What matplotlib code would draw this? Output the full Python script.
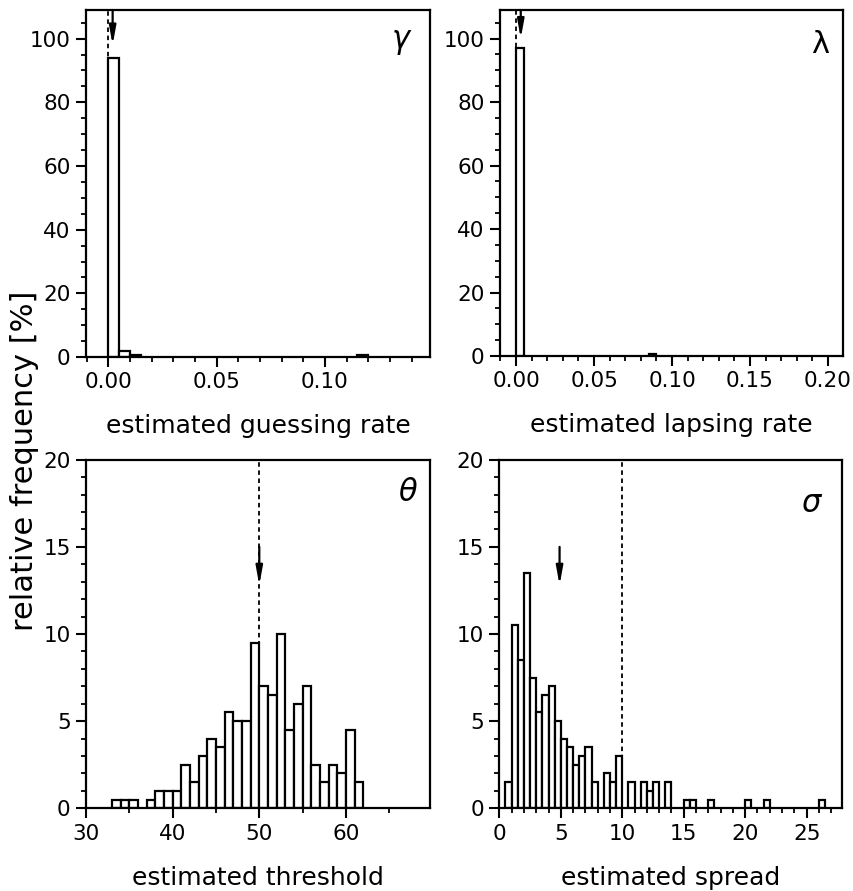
import matplotlib
matplotlib.use("Agg")
import matplotlib.pyplot as plt
from matplotlib.ticker import MultipleLocator, FormatStrFormatter

plt.rcParams['font.family'] = ['DejaVu Sans']

# ---- data (relative frequency in %) ----
gamma_left = [0.000, 0.005, 0.010, 0.115]
gamma_freq = [94.0, 2.0, 0.5, 0.5]
gamma_width = 0.005
gamma_true = 0.0
gamma_mean = 0.002

lambda_left = [0.000, 0.085]
lambda_freq = [97.0, 0.5]
lambda_width = 0.005
lambda_true = 0.0
lambda_mean = 0.003

theta_left = [33, 34, 35, 37, 38, 39, 40, 41, 42, 43, 44, 45, 46, 47, 48,
              49, 50, 51, 52, 53, 54, 55, 56, 57, 58, 59, 60, 61]
theta_freq = [0.5, 0.5, 0.5, 0.5, 1.0, 1.0, 1.0, 2.5, 1.5, 3.0, 4.0, 3.5, 5.5, 5.0, 5.0,
              9.5, 7.0, 6.5, 10.0, 4.5, 6.0, 7.0, 2.5, 1.5, 2.5, 2.0, 4.5, 1.5]
theta_width = 1.0
theta_true = 50.0
theta_mean = 50.0

sigma_left = [0.5, 1.0, 1.5, 2.0, 2.5, 3.0, 3.5, 4.0, 4.5, 5.0, 5.5, 6.0, 6.5, 7.0, 7.5,
              8.5, 9.0, 9.5, 10.5, 11.5, 12.0, 12.5, 13.5, 15.0, 15.5, 17.0, 20.0, 21.5, 26.0]
sigma_freq = [1.5, 10.5, 8.5, 13.5, 7.5, 5.5, 6.5, 7.0, 5.0, 4.0, 3.5, 2.5, 3.0, 3.5, 1.5,
              2.0, 1.5, 3.0, 1.5, 1.5, 1.0, 1.5, 1.5, 0.5, 0.5, 0.5, 0.5, 0.5, 0.5]
sigma_width = 0.5
sigma_true = 10.0
sigma_mean = 4.9

xlabels = ["estimated guessing rate", "estimated lapsing rate",
           "estimated threshold", "estimated spread"]
symbols = [r"$\gamma$", "λ", r"$\theta$", r"$\sigma$"]

fig = plt.figure(figsize=(8.54, 8.91), dpi=100)

positions = [
    [0.1007, 0.5993, 0.4028, 0.3895],
    [0.5855, 0.6004, 0.4016, 0.3884],
    [0.1007, 0.0928, 0.4028, 0.3912],
    [0.5847, 0.0928, 0.4016, 0.3912],
]

panels = [
    dict(left=gamma_left, freq=gamma_freq, w=gamma_width, true=gamma_true, mean=gamma_mean,
         xlim=(-0.0103, 0.1485), ylim=(0, 109), xmaj=0.05, xmin=0.01, ymaj=20, ymin=5,
         fmt='%.2f', arrow=(109, 98), sym_pos=(0.919, 0.905)),
    dict(left=lambda_left, freq=lambda_freq, w=lambda_width, true=lambda_true, mean=lambda_mean,
         xlim=(-0.0103, 0.2096), ylim=(0, 109), xmaj=0.05, xmin=0.01, ymaj=20, ymin=5,
         fmt='%.2f', arrow=(109, 100), sym_pos=(0.933, 0.899)),
    dict(left=theta_left, freq=theta_freq, w=theta_width, true=theta_true, mean=theta_mean,
         xlim=(30, 69.7), ylim=(0, 20), xmaj=10, xmin=5, ymaj=5, ymin=1,
         fmt='%d', arrow=(15, 12.8), sym_pos=(0.936, 0.907)),
    dict(left=sigma_left, freq=sigma_freq, w=sigma_width, true=sigma_true, mean=sigma_mean,
         xlim=(0, 27.9), ylim=(0, 20), xmaj=5, xmin=1, ymaj=5, ymin=1,
         fmt='%d', arrow=(15, 12.8), sym_pos=(0.913, 0.875)),
]

for i, (pos, p) in enumerate(zip(positions, panels)):
    ax = fig.add_axes(pos)
    ax.bar(p['left'], p['freq'], width=p['w'], align='edge', facecolor='white',
           edgecolor='black', linewidth=1.6, zorder=2)
    ax.axvline(p['true'], color='black', linestyle=(0, (2.5, 2.0)), linewidth=1.3, zorder=3)
    ax.annotate('', xy=(p['mean'], p['arrow'][1]), xytext=(p['mean'], p['arrow'][0]),
                arrowprops=dict(arrowstyle='-|>,head_length=0.55,head_width=0.1',
                                color='black', lw=1.6, mutation_scale=20,
                                shrinkA=0, shrinkB=0), zorder=4)
    ax.set_xlim(*p['xlim'])
    ax.set_ylim(*p['ylim'])
    ax.xaxis.set_major_locator(MultipleLocator(p['xmaj']))
    ax.xaxis.set_minor_locator(MultipleLocator(p['xmin']))
    ax.yaxis.set_major_locator(MultipleLocator(p['ymaj']))
    ax.yaxis.set_minor_locator(MultipleLocator(p['ymin']))
    ax.xaxis.set_major_formatter(FormatStrFormatter(p['fmt']))
    ax.yaxis.set_major_formatter(FormatStrFormatter('%d'))
    ax.tick_params(which='major', direction='out', length=7, width=1.5, labelsize=15.5, pad=4)
    ax.tick_params(which='minor', direction='out', length=3.5, width=1.3)
    for s in ax.spines.values():
        s.set_linewidth(1.6)
    ax.set_xlabel(xlabels[i], fontsize=18)
    ax.xaxis.set_label_coords(0.5, -0.165)
    ax.xaxis.label.set_va('top')
    ax.text(p['sym_pos'][0], p['sym_pos'][1], symbols[i], transform=ax.transAxes,
            fontsize=22, ha='center', va='center')

fig.text(0.029, 0.4826, "relative frequency [%]", rotation=90, fontsize=22,
         ha='center', va='center')

fig.savefig("out.png", dpi=100)
